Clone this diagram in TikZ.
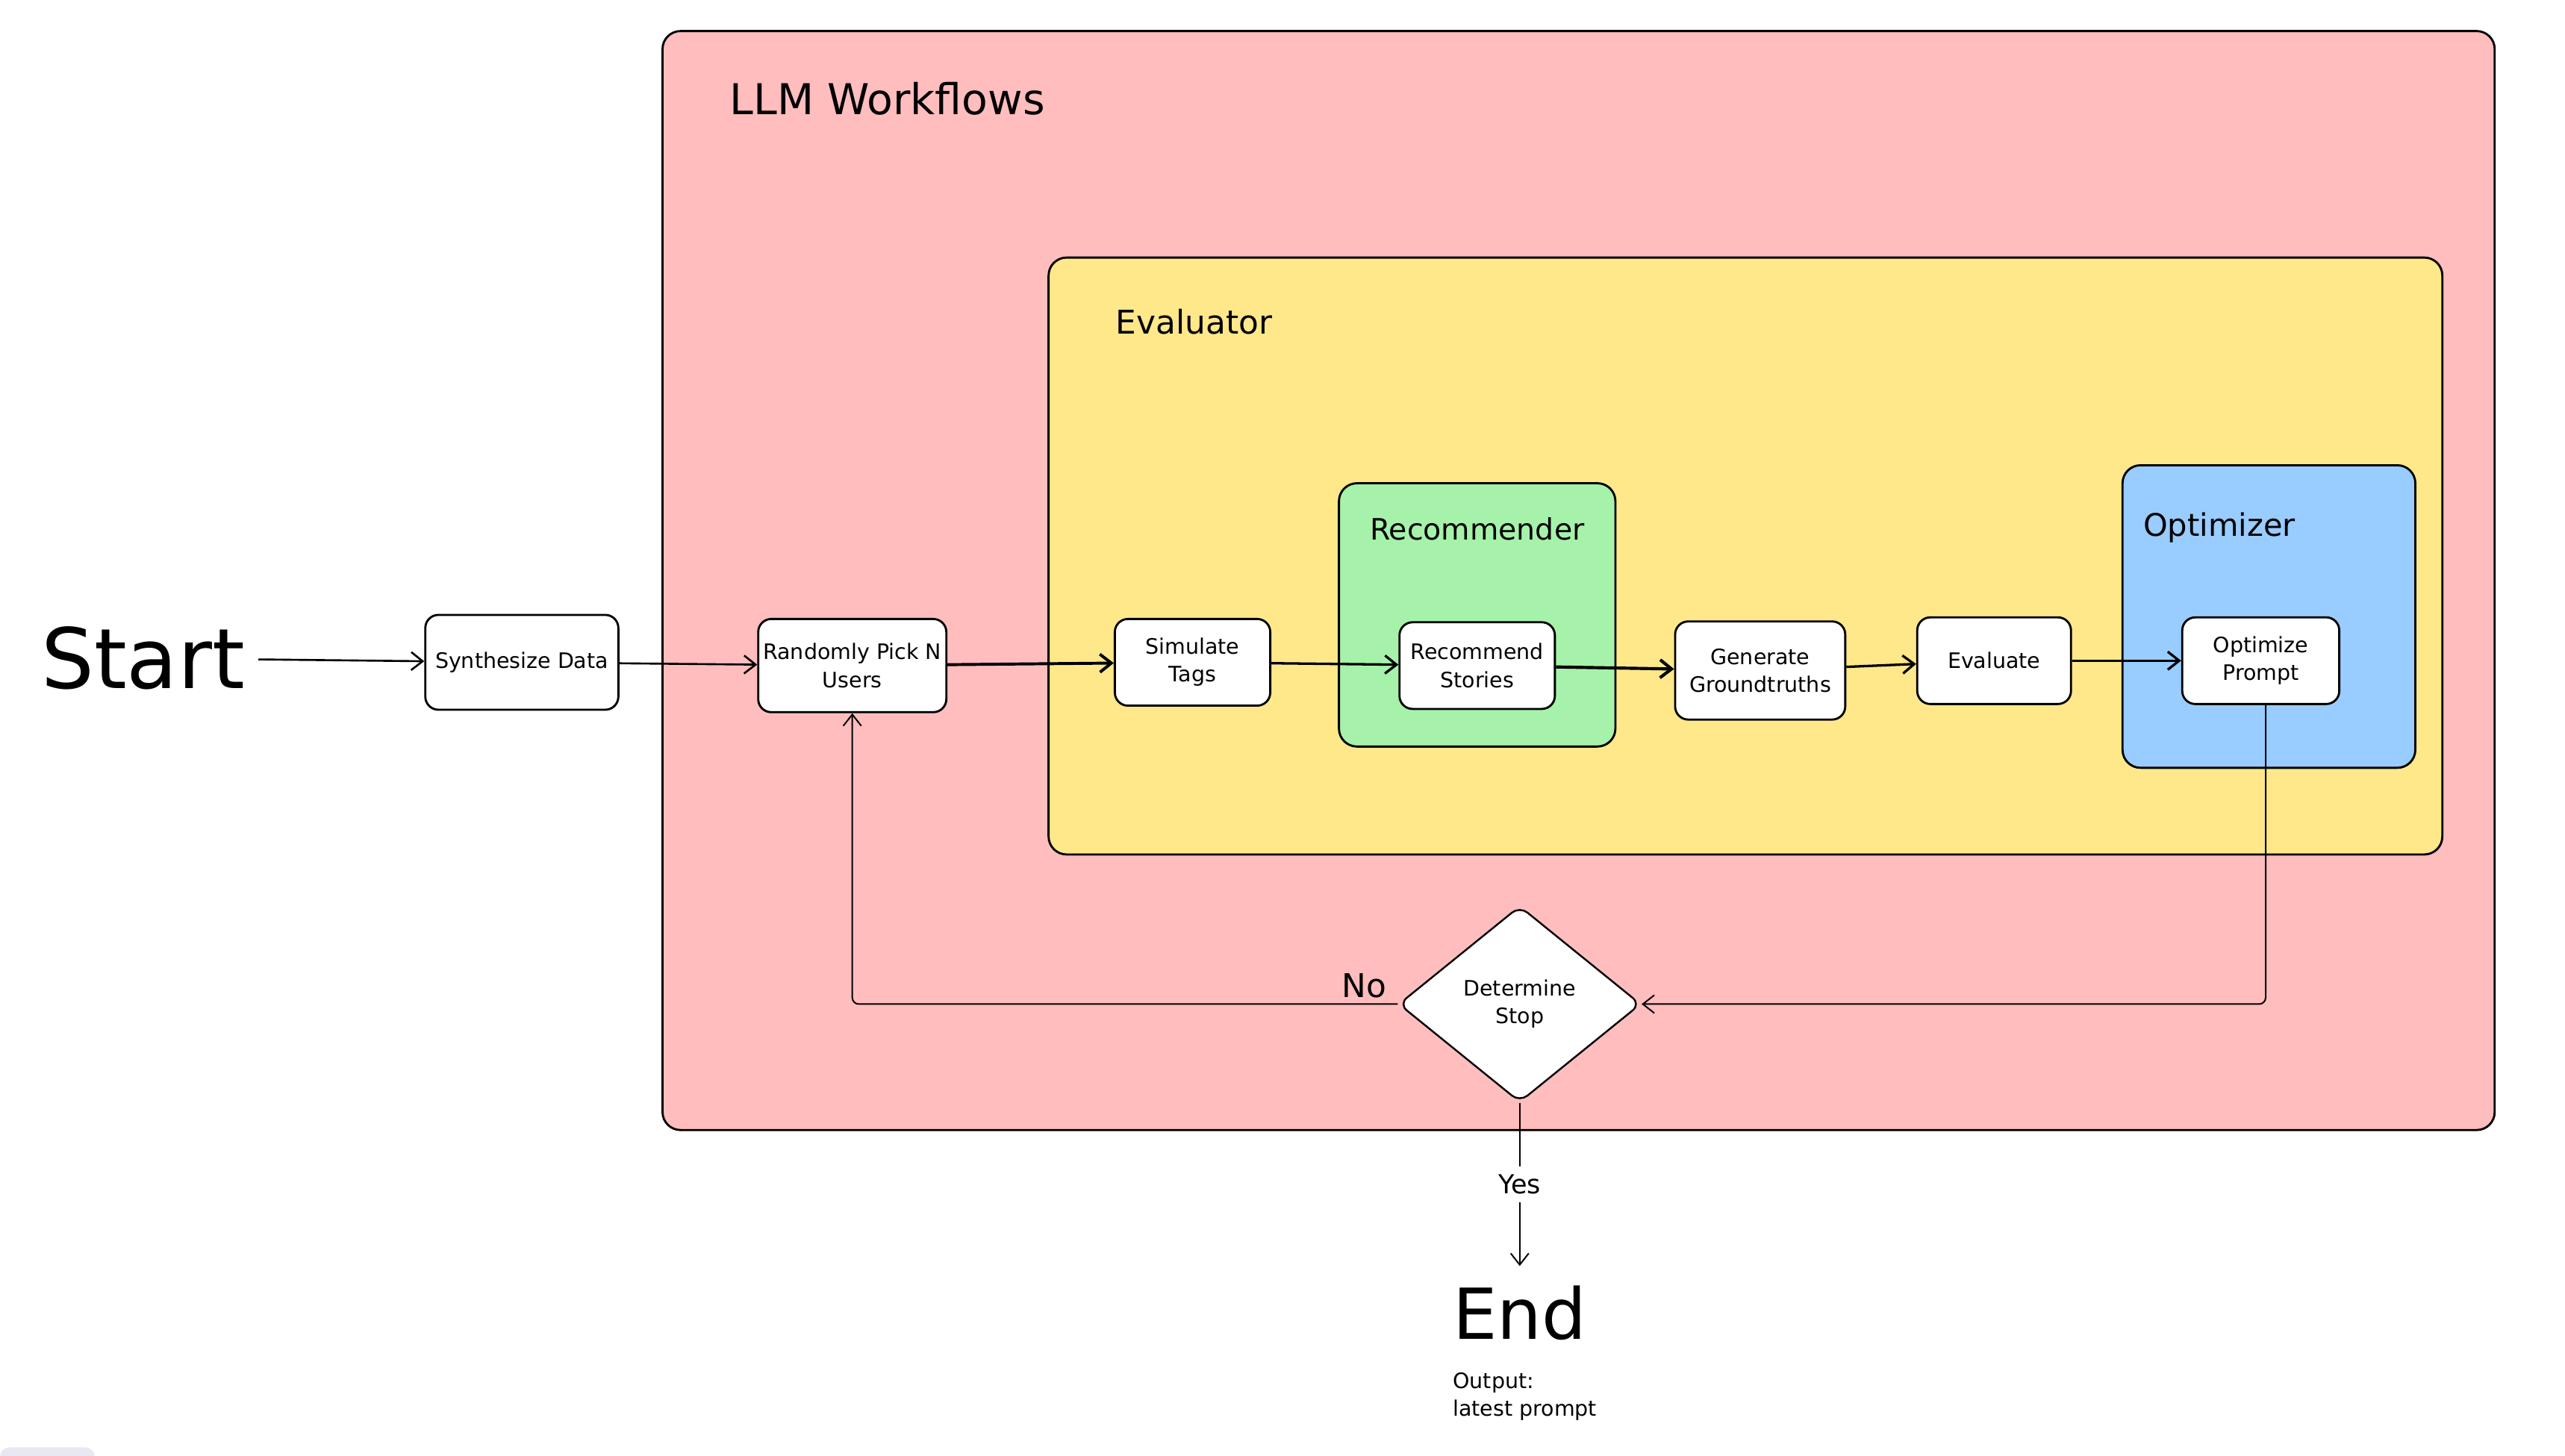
\documentclass[tikz,border=0pt]{standalone}
\usepackage{fontspec}
\setmainfont{DejaVu Sans}
\usepackage{xcolor}
\usepackage{tikz}
\usetikzlibrary{shapes.geometric,arrows.meta,positioning}
\definecolor{llmpink}{RGB}{255,189,190}
\definecolor{evalyellow}{RGB}{255,232,138}
\definecolor{recgreen}{RGB}{166,242,170}
\definecolor{optblue}{RGB}{153,204,255}
\definecolor{uilavender}{RGB}{232,232,242}
\tikzset{
    block/.style={rectangle, draw, line width=1.3pt, fill=white, rounded corners=8pt, align=center, inner sep=1pt, minimum width=95pt, minimum height=53pt, font=\fontsize{13}{17}\selectfont},
    group/.style={rectangle, draw, line width=1.3pt, rounded corners=11pt, inner sep=0pt},
    title/.style={anchor=base west, inner sep=0pt},
    line/.style={draw, line width=1.2pt, -{Straight Barb[length=7pt, width=11pt]}},
    loopline/.style={line, line width=0.9pt, rounded corners=4pt},
    decision/.style={diamond, draw, line width=1.1pt, fill=white, align=center, inner sep=0pt, minimum width=148pt, minimum height=120pt, rounded corners=6pt, font=\fontsize{13}{17}\selectfont}
}

\begin{document}
\begin{tikzpicture}[x=1pt, y=-1pt]
    \useasboundingbox (0,0) rectangle (1568,890);
    \fill [uilavender, rounded corners=6pt] (0,885) rectangle (58,900);

    % Nested groups
    \node [group, fill=llmpink, minimum width=1120pt, minimum height=672pt] (llm) at (965,355) {};
    \node [group, fill=evalyellow, minimum width=852pt, minimum height=365pt] (evaluator) at (1067,340) {};
    \node [group, fill=recgreen, minimum width=169pt, minimum height=161pt] (recommender) at (903,376) {};
    \node [group, fill=optblue, minimum width=179pt, minimum height=185pt] (optimizer) at (1387,377) {};

    % Group titles
    \node [title, font=\fontsize{26}{30}\selectfont] at (446,70) {LLM Workflows};
    \node [title, font=\fontsize{20}{24}\selectfont] at (682,204) {Evaluator};
    \node [anchor=base, inner sep=0pt, font=\fontsize{18}{22}\selectfont] at (903,330) {Recommender};
    \node [title, font=\fontsize{19}{23}\selectfont] at (1310,328) {Optimizer};

    % Start and steps
    \node [anchor=base west, inner sep=8pt, font=\fontsize{51}{58}\selectfont] (start) at (17,421) {Start};
    \node [block, minimum width=118pt, minimum height=58pt] (synth) at (319,405) {Synthesize Data};
    \node [block, minimum width=115pt, minimum height=57pt] (pick) at (521,407) {Randomly Pick N\\Users};
    \node [block] (simulate) at (729,405) {Simulate\\Tags};
    \node [block] (recommend) at (903,407) {Recommend\\Stories};
    \node [block, minimum width=104pt, minimum height=60pt] (generate) at (1076,410) {Generate\\Groundtruths};
    \node [block, minimum width=94pt] (evaluate) at (1219,404) {Evaluate};
    \node [block, minimum width=96pt] (optimize) at (1382,404) {Optimize\\Prompt};
    \node [decision] (stop) at (929,614) {Determine\\Stop};

    % End
    \node [anchor=base, inner sep=12pt, font=\fontsize{43}{48}\selectfont] (end) at (929,819) {End};
    \node [anchor=base west, inner sep=0pt, align=left, font=\fontsize{13}{17}\selectfont] (output) at (888,866) {Output:\\latest prompt};

    % Connections
    \path [line] (start) -- (synth);
    \path [line] (synth) -- (pick);
    \path [line, line width=1.8pt] (pick) -- (simulate);
    \path [line, line width=1.5pt] (simulate) -- (recommend);
    \path [line, line width=1.9pt] (recommend) -- (generate);
    \path [line, line width=1.5pt] (generate) -- (evaluate);
    \path [line, line width=1.5pt] (evaluate) -- (optimize);
    \path [loopline] ([xshift=3pt]optimize.south) |- (stop.east);
    \path [loopline] (stop.west) -| (pick.south);
    \path [line, line width=0.9pt] (stop.south) -- node [fill=white, inner sep=5pt, font=\fontsize{16}{20}\selectfont] {Yes} (end.north);

    % Labels
    \node [anchor=base, inner sep=0pt, font=\fontsize{20}{24}\selectfont] at (834,610) {No};
\end{tikzpicture}
\end{document}
